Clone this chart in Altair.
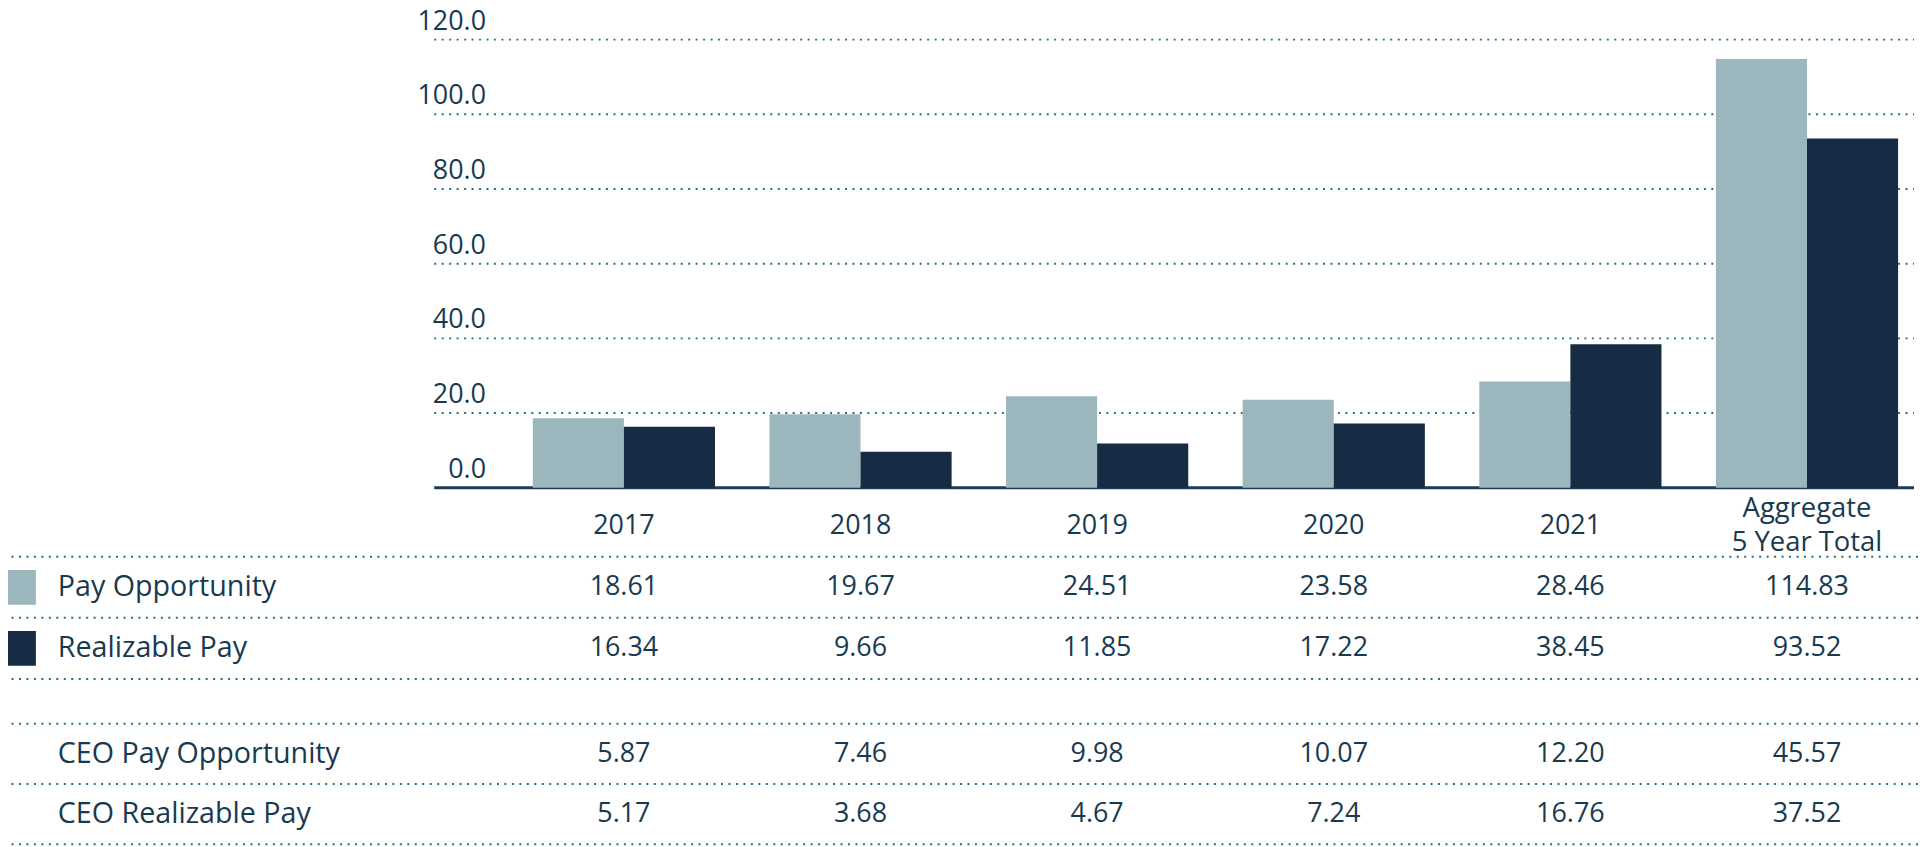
import altair as alt
import pandas as pd

# ---- data ----
categories = ["2017", "2018", "2019", "2020", "2021", "Aggregate\n5 Year Total"]
series = ["Pay Opportunity", "Realizable Pay"]
pay_opportunity = [18.61, 19.67, 24.51, 23.58, 28.46, 114.83]
realizable_pay = [16.34, 9.66, 11.85, 17.22, 38.45, 93.52]
ceo_rows = ["CEO Pay Opportunity", "CEO Realizable Pay"]
ceo_pay_opportunity = [5.87, 7.46, 9.98, 10.07, 12.20, 45.57]
ceo_realizable_pay = [5.17, 3.68, 4.67, 7.24, 16.76, 37.52]
y_ticks = [0, 20, 40, 60, 80, 100, 120]
header_row = "header"

# ---- styles ----
COLORS = ["#9CB6BD", "#172B45"]
TEXT = "#183A4F"
DOT = "#2B6E7E"
BASE = "#1D3D56"
FONT = "Open Sans"
FS = 27
FS_LABEL = 28.8
DASH = [2, 5.5]

n = len(categories)
bars_df = pd.DataFrame({
    "category": categories * 2,
    "series": [series[0]] * n + [series[1]] * n,
    "value": pay_opportunity + realizable_pay,
})
table_a = bars_df.rename(columns={"series": "row"})
table_b = pd.DataFrame({
    "category": categories * 2,
    "row": [ceo_rows[0]] * n + [ceo_rows[1]] * n,
    "value": ceo_pay_opportunity + ceo_realizable_pay,
})
header_df = pd.DataFrame({"category": categories, "row": [header_row] * n})
ticks_df = pd.DataFrame({"tick": y_ticks})
grid_df = pd.DataFrame({"tick": y_ticks[1:]})
base_df = pd.DataFrame({"tick": y_ticks[:1]})
rows_a_df = pd.DataFrame({"row": series})
rows_b_df = pd.DataFrame({"row": ceo_rows})

# ---- scales ----
x_scale = alt.Scale(domain=categories, range=[527, 1898], paddingInner=0.23, paddingOuter=0)
y_val = alt.Scale(domain=[0, 120], range=[480, 30], nice=False, zero=True)
rows_a = alt.Scale(domain=[header_row] + series, range=[488, 672], paddingInner=0, paddingOuter=0)
rows_b = alt.Scale(domain=ceo_rows, range=[717, 838], paddingInner=0, paddingOuter=0)
col_scale = alt.Scale(domain=series, range=COLORS)

X = alt.X("category:N", scale=x_scale, axis=None)

bars = alt.Chart(bars_df).mark_bar().encode(
    x=X,
    xOffset=alt.XOffset("series:N", scale=alt.Scale(domain=series, paddingInner=0, paddingOuter=0)),
    y=alt.Y("value:Q", scale=y_val, axis=None),
    color=alt.Color("series:N", scale=col_scale, legend=None),
)

grid = alt.Chart(grid_df).mark_rule(strokeDash=DASH, strokeWidth=2, color=DOT).encode(
    y=alt.Y("tick:Q", scale=y_val, axis=None),
    x=alt.value(428), x2=alt.value(1914),
)
baseline = alt.Chart(base_df).mark_rule(strokeWidth=3, color=BASE).encode(
    y=alt.Y("tick:Q", scale=y_val, axis=None),
    x=alt.value(428), x2=alt.value(1914),
)
tick_labels = alt.Chart(ticks_df).mark_text(
    align="right", baseline="alphabetic", dy=-10, font=FONT, fontSize=FS, color=TEXT
).encode(
    y=alt.Y("tick:Q", scale=y_val, axis=None),
    x=alt.value(480),
    text=alt.Text("tick:Q", format=".1f"),
)

header_single = alt.Chart(header_df).transform_filter(
    "indexof(datum.category, '\\n') < 0"
).mark_text(
    baseline="middle", align="center", font=FONT, fontSize=FS, color=TEXT
).encode(
    x=X,
    y=alt.Y("row:N", scale=rows_a, axis=None),
    text="category:N",
)
header_multi = alt.Chart(header_df).transform_filter(
    "indexof(datum.category, '\\n') >= 0"
).mark_text(
    lineBreak="\n", lineHeight=34, baseline="middle", align="center", dy=-17,
    font=FONT, fontSize=27.5, color=TEXT
).encode(
    x=X,
    y=alt.Y("row:N", scale=rows_a, axis=None),
    text="category:N",
)


def table_layers(df, rows_df, scale, swatches):
    vals = alt.Chart(df).mark_text(
        baseline="middle", align="center", font=FONT, fontSize=FS, color=TEXT
    ).encode(
        x=X,
        y=alt.Y("row:N", scale=scale, axis=None),
        text=alt.Text("value:Q", format=".2f"),
    )
    labels = alt.Chart(rows_df).mark_text(
        baseline="middle", align="left", font=FONT, fontSize=FS_LABEL, color=TEXT
    ).encode(
        x=alt.value(50),
        y=alt.Y("row:N", scale=scale, axis=None),
        text="row:N",
    )
    sep_top = alt.Chart(rows_df).mark_rule(strokeDash=DASH, strokeWidth=2, color=DOT).encode(
        y=alt.Y("row:N", scale=scale, axis=None, bandPosition=0),
    )
    sep_bot = alt.Chart(rows_df.tail(1)).mark_rule(strokeDash=DASH, strokeWidth=2, color=DOT).encode(
        y=alt.Y("row:N", scale=scale, axis=None, bandPosition=1),
    )
    out = [sep_top, sep_bot, vals, labels]
    if swatches:
        sw = alt.Chart(rows_df).mark_square(size=35 * 35, opacity=1, filled=True).encode(
            x=alt.value(10.5),
            y=alt.Y("row:N", scale=scale, axis=None),
            color=alt.Color("row:N", scale=col_scale, legend=None),
        )
        out.append(sw)
    return out


layers = [grid, baseline, bars, tick_labels, header_single, header_multi]
layers += table_layers(table_a, rows_a_df, rows_a, True)
layers += table_layers(table_b, rows_b_df, rows_b, False)

chart = (
    alt.layer(*layers)
    .resolve_scale(y="independent", color="independent")
    .properties(width=1918, height=839, padding=0, autosize=alt.AutoSizeParams(type="none"))
    .configure_view(stroke=None)
)

chart.save("out.html", embed_options={"renderer": "svg", "actions": False})
